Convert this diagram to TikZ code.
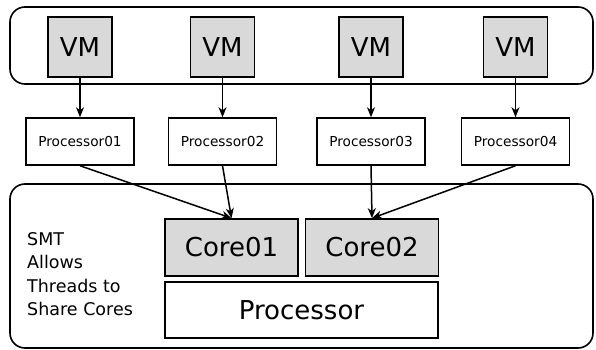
\documentclass[tikz,border=0pt]{standalone}
\usepackage{fontspec}
\setmainfont{DejaVu Sans}
\usetikzlibrary{arrows.meta}
\begin{document}
\begin{tikzpicture}[x=1pt,y=-1pt,
  container/.style={draw=black,line width=1.6pt,rounded corners=15pt},
  vmbox/.style={draw=black,line width=1.7pt,fill=vmgray,minimum width=64pt,minimum height=60pt,inner sep=0pt,font=\fontsize{26}{30}\selectfont},
  procbox/.style={draw=black,line width=1.5pt,fill=white,minimum width=108pt,minimum height=47pt,inner sep=0pt,font=\fontsize{13.7}{16}\selectfont},
  corebox/.style={draw=black,line width=1.7pt,fill=vmgray,minimum width=133pt,minimum height=57pt,inner sep=0pt,font=\fontsize{26}{30}\selectfont},
  bigbox/.style={draw=black,line width=1.7pt,fill=white,minimum width=273pt,minimum height=56pt,inner sep=0pt,font=\fontsize{26}{30}\selectfont},
  conn/.style={line width=1.5pt,-{Stealth[length=10pt,width=8pt,inset=3pt]}}
]
\definecolor{vmgray}{HTML}{D9D9D9}
\useasboundingbox (0,0) rectangle (596,350);
\draw[container] (10,7) rectangle (593,84);
\draw[container] (10,184) rectangle (593,348);

\node[vmbox] (vm1) at (80,47) {VM};
\node[vmbox] (vm2) at (222.5,47) {VM};
\node[vmbox] (vm3) at (371,47) {VM};
\node[vmbox] (vm4) at (515.5,47) {VM};

\node[procbox] (p1) at (80,141.5) {Processor01};
\node[procbox] (p2) at (222.5,141.5) {Processor02};
\node[procbox] (p3) at (371,141.5) {Processor03};
\node[procbox] (p4) at (515.5,141.5) {Processor04};

\node[corebox] (c1) at (231.5,247.5) {Core01};
\node[corebox] (c2) at (372,247.5) {Core02};
\node[bigbox] (proc) at (301.5,310) {Processor};

\node[anchor=north west,align=left,inner sep=0pt,font=\fontsize{17.5}{23.5}\selectfont] (smt) at (27,232) {SMT\\Allows\\Threads to\\Share Cores};

\draw[conn] (vm1) -- (p1);
\draw[conn] (vm2) -- (p2);
\draw[conn] (vm3) -- (p3);
\draw[conn] (vm4) -- (p4);
\draw[conn] (p1.south) -- (c1.north);
\draw[conn] (p2.south) -- (c1.north);
\draw[conn] (p3.south) -- (c2.north);
\draw[conn] (p4.south) -- (c2.north);
\end{tikzpicture}
\end{document}
